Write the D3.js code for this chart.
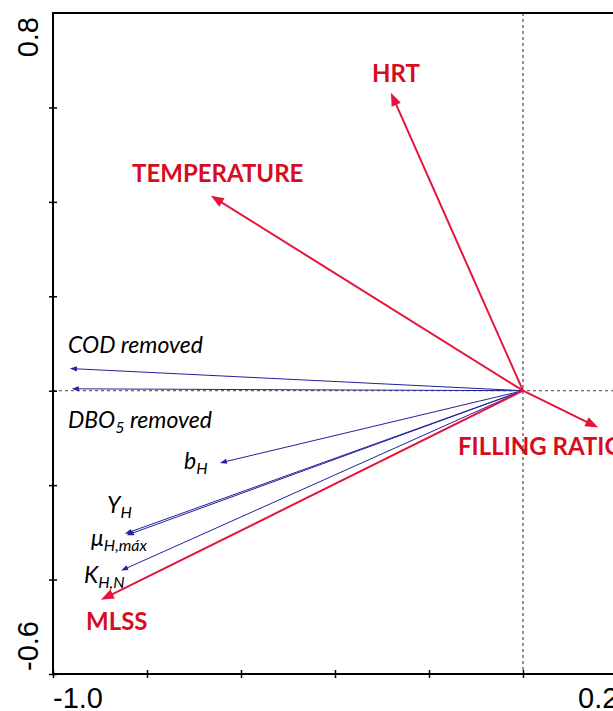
<!DOCTYPE html>
<html>
<head>
<meta charset="utf-8">
<script src="https://cdnjs.cloudflare.com/ajax/libs/d3/7.8.5/d3.min.js"></script>
<style>
  html, body { margin: 0; padding: 0; background: #fff; }
  svg { display: block; }
</style>
</head>
<body>
<script>
// Biplot axis ranges and ticks
const xTicks = [-1.0, -0.8, -0.6, -0.4, -0.2, 0.0];
const yTicks = [-0.6, -0.4, -0.2, 0.0, 0.2, 0.4, 0.6];
const xTickLabels = ["-1.0", "0.2"];
const yTickLabels = ["0.8", "-0.6"];

// Environmental variables (red vectors)
const envNames = ["HRT", "TEMPERATURE", "FILLING RATIO", "MLSS"];
const envX = [-0.281, -0.664, 0.160, -0.898];
const envY = [0.631, 0.413, -0.078, -0.443];

// Response variables (blue vectors)
const respNames = ["COD removed", "DBO5 removed", "bH", "YH", "μH,máx", "KH,N"];
const respX = [-0.964, -0.960, -0.645, -0.847, -0.843, -0.855];
const respY = [0.047, 0.004, -0.153, -0.303, -0.306, -0.381];

const W = 613, H = 711;
const svg = d3.select("body").append("svg").attr("width", W).attr("height", H);

const x = d3.scaleLinear().domain([-1.0, 0.2]).range([53, 617]);
const y = d3.scaleLinear().domain([-0.6, 0.8]).range([674, 13]);

const red = "#e4153c";
const redText = "#d50d1f";
const blue = "#22229a";

// zero reference lines
svg.append("line")
  .attr("x1", x(-1.0)).attr("x2", x(0.35)).attr("y1", y(0)).attr("y2", y(0))
  .attr("stroke", "#444").attr("stroke-width", 1).attr("stroke-dasharray", "3,3");
svg.append("line")
  .attr("x1", x(0)).attr("x2", x(0)).attr("y1", y(0.8)).attr("y2", y(-0.6))
  .attr("stroke", "#222").attr("stroke-width", 1).attr("stroke-dasharray", "3,3");

// frame
svg.append("path")
  .attr("d", `M${x(0.35)},${y(0.8)}H${x(-1.0)}V${y(-0.6)}H${x(0.35)}`)
  .attr("fill", "none").attr("stroke", "#000").attr("stroke-width", 2);

// ticks crossing the axis lines
const xAxis = d3.axisBottom(x).tickValues(xTicks).tickSize(8).tickFormat("");
svg.append("g").attr("transform", `translate(0,${y(-0.6) - 4})`).call(xAxis)
  .call(g => g.select(".domain").remove())
  .call(g => g.selectAll(".tick line").attr("stroke", "#000").attr("stroke-width", 1.5));
const yAxis = d3.axisRight(y).tickValues(yTicks).tickSize(8).tickFormat("");
svg.append("g").attr("transform", `translate(${x(-1.0) - 4},0)`).call(yAxis)
  .call(g => g.select(".domain").remove())
  .call(g => g.selectAll(".tick line").attr("stroke", "#000").attr("stroke-width", 1.5));

// tick labels
const tickFont = "'Liberation Sans', Arial, sans-serif";
svg.append("text").text(xTickLabels[0])
  .attr("x", x(-1.0)).attr("y", 708)
  .attr("font-family", tickFont).attr("font-size", 29).attr("fill", "#000");
svg.append("text").text(xTickLabels[1])
  .attr("x", 578).attr("y", 708)
  .attr("font-family", tickFont).attr("font-size", 29).attr("fill", "#000");
svg.append("text").text(yTickLabels[0])
  .attr("transform", `translate(38,${y(0.8) + 4}) rotate(-90)`)
  .attr("text-anchor", "end")
  .attr("font-family", tickFont).attr("font-size", 29).attr("fill", "#000");
svg.append("text").text(yTickLabels[1])
  .attr("transform", `translate(38,${y(-0.6) - 3}) rotate(-90)`)
  .attr("text-anchor", "start")
  .attr("font-family", tickFont).attr("font-size", 29).attr("fill", "#000");

// arrow drawing in pixel space
function arrow(g, vx, vy, color, width, headLen, headHalf) {
  const x0 = x(0), y0 = y(0), x1 = x(vx), y1 = y(vy);
  const dx = x1 - x0, dy = y1 - y0, L = Math.hypot(dx, dy);
  const ux = dx / L, uy = dy / L, px = -uy, py = ux;
  const bx = x1 - ux * headLen, by = y1 - uy * headLen;
  g.append("line")
    .attr("x1", x0).attr("y1", y0)
    .attr("x2", x1 - ux * headLen * 0.6).attr("y2", y1 - uy * headLen * 0.6)
    .attr("stroke", color).attr("stroke-width", width);
  g.append("path")
    .attr("d", `M${x1},${y1}L${bx + px * headHalf},${by + py * headHalf}L${bx - px * headHalf},${by - py * headHalf}Z`)
    .attr("fill", color);
}

const gResp = svg.append("g");
respX.forEach((vx, i) => arrow(gResp, vx, respY[i], blue, 1, 7, 2.6));
const gEnv = svg.append("g");
envX.forEach((vx, i) => arrow(gEnv, vx, envY[i], red, 2, 13, 5));

// labels
const labFont = "Lato, 'Noto Sans', sans-serif";
const envPos = [[372, 82], [132, 182], [458, 455], [86, 630]];
envNames.forEach((n, i) => {
  svg.append("text").text(n)
    .attr("x", envPos[i][0]).attr("y", envPos[i][1])
    .attr("font-family", labFont).attr("font-weight", 700).attr("font-size", 24)
    .attr("fill", redText);
});

function respLabel(px, py, main, sub, rest) {
  const t = svg.append("text").attr("x", px).attr("y", py)
    .attr("font-family", labFont).attr("font-style", "italic").attr("font-size", 23)
    .attr("fill", "#000");
  t.append("tspan").text(main);
  if (sub) t.append("tspan").text(sub).attr("font-size", 16).attr("dy", 5);
  if (rest) t.append("tspan").text(rest).attr("dy", sub ? -5 : 0);
  return t;
}
respLabel(68, 353, "COD removed");
respLabel(68, 428, "DBO", "5", " removed");
respLabel(184, 469, "b", "H");
respLabel(107, 513, "Y", "H");
respLabel(91, 546, "μ", "H,máx");
respLabel(84, 583, "K", "H,N");
</script>
</body>
</html>
